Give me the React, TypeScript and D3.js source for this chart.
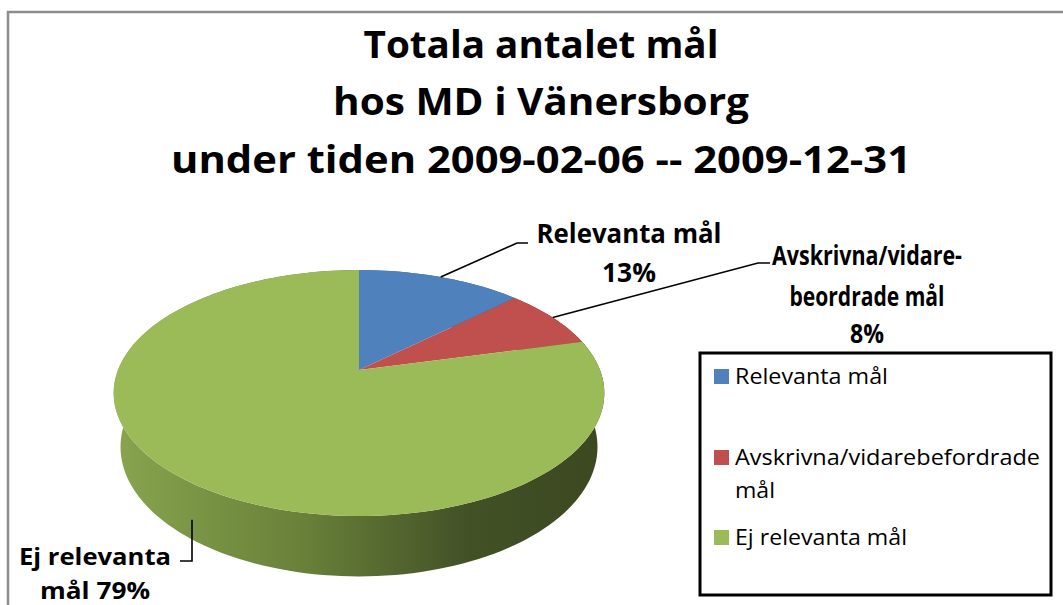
import { useMemo } from 'react';
import * as d3 from 'd3';

// chart data
const categories = ['Relevanta mål', 'Avskrivna/vidarebefordrade mål', 'Ej relevanta mål'];
const values = [13, 8, 79];
const colors = ['#4f81bd', '#c0504d', '#9bbb59'];
const sideColors = ['#3a5f8c', '#8e3b39', '#627a36'];
const titleLines = ['Totala antalet mål', 'hos MD i Vänersborg', 'under tiden 2009-02-06 -- 2009-12-31'];
// data label lines (as drawn by the original, incl. its wrapping)
const dataLabelLines = [
  ['Relevanta mål', '13%'],
  ['Avskrivna/vidare-', 'beordrade mål', '8%'],
  ['Ej relevanta', 'mål 79%'],
];
const legendLines = [['Relevanta mål'], ['Avskrivna/vidarebefordrade', 'mål'], ['Ej relevanta mål']];

const W = 1063;
const H = 605;
const FONT = '"Open Sans", "Noto Sans", sans-serif';

// 3d pie geometry (perspective projection)
const R = 241;
const cx = 359;
const cy = 370;
const depth = 63;
const focal = 1121;
const sinP = 0.4925;
const cosP = Math.sqrt(1 - sinP * sinP);

const proj = (a: number, yH: number): [number, number] => {
  const X = R * Math.sin(a);
  const Z = R * Math.cos(a);
  const u = Z * sinP + yH * cosP;
  const z = Z * cosP - yH * sinP;
  const s = focal / (focal + z);
  return [cx + X * s, cy - u * s];
};

const arcPts = (a0: number, a1: number, yH: number) => {
  const n = Math.max(4, Math.ceil(((a1 - a0) / (2 * Math.PI)) * 200));
  return d3.range(n + 1).map(i => proj(a0 + ((a1 - a0) * i) / n, yH));
};

const line = d3.line<[number, number]>();

export default function App() {
  const slices = useMemo(
    () =>
      d3
        .pie<number>()
        .sort(null)
        .value(d => d)(values),
    []
  );

  const titleWidths = [355, 416, 740];
  const titleBase = [58, 115, 173];

  // label layout
  const labelSpec = [
    { x: 629, y: [243, 282], w: [185, 54], size: 26, leader: [[517, 243], [528, 243]], yH: 0 },
    { x: 867, y: [265, 306, 343], w: [190, 155, 34], size: 26, leader: [[758, 263], [770, 263]], yH: 0 },
    { x: 95, y: [565, 599], w: [152, 110], size: 24, leader: [[192, 561], [180, 561]], yH: -42 },
  ];

  return (
    <svg
      width={W}
      height={H}
      style={{ position: 'absolute', left: 0, top: 0, background: '#fff' }}
    >
      <defs>
        <linearGradient id="sideGrad" gradientUnits="userSpaceOnUse" x1={113} x2={605} y1={0} y2={0}>
          <stop offset="0" stopColor="#89a54f" />
          <stop offset="0.4" stopColor="#677f38" />
          <stop offset="0.72" stopColor="#435127" />
          <stop offset="1" stopColor="#3b4820" />
        </linearGradient>
      </defs>

      {/* chart frame */}
      <path d={`M8,${H} L8,12 L${W},12`} fill="none" stroke="#8c8c8c" strokeWidth={2.5} />

      {/* title */}
      {titleLines.map((t, i) => (
        <text
          key={i}
          x={541}
          y={titleBase[i]}
          textAnchor="middle"
          fontFamily={FONT}
          fontWeight="bold"
          fontSize={37}
          textLength={titleWidths[i]}
          lengthAdjust="spacingAndGlyphs"
        >
          {t}
        </text>
      ))}

      {/* side walls */}
      {slices.map((s, i) => {
        const top = arcPts(s.startAngle, s.endAngle, 0);
        const bot = arcPts(s.startAngle, s.endAngle, -depth).reverse();
        return (
          <path
            key={'side' + i}
            d={line([...top, ...bot]) + 'Z'}
            fill={i === 2 ? 'url(#sideGrad)' : sideColors[i]}
          />
        );
      })}

      {/* top faces */}
      {slices.map((s, i) => {
        const pts: [number, number][] = [[cx, cy], ...arcPts(s.startAngle, s.endAngle, 0)];
        return <path key={'top' + i} d={line(pts) + 'Z'} fill={colors[i]} />;
      })}

      {/* leader lines and data labels */}
      {slices.map((s, i) => {
        const spec = labelSpec[i];
        const mid = (s.startAngle + s.endAngle) / 2;
        const start = proj(mid, spec.yH);
        const pts: [number, number][] = [
          i === 2 ? [spec.leader[0][0], start[1]] : start,
          spec.leader[0] as [number, number],
          spec.leader[1] as [number, number],
        ];
        return (
          <g key={'lbl' + i}>
            <path d={line(pts) ?? ''} fill="none" stroke="#000" strokeWidth={1.6} />
            {dataLabelLines[i].map((t, j) => (
              <text
                key={j}
                x={spec.x}
                y={spec.y[j]}
                textAnchor="middle"
                fontFamily={FONT}
                fontWeight="bold"
                fontSize={spec.size}
                textLength={spec.w[j]}
                lengthAdjust="spacingAndGlyphs"
              >
                {t}
              </text>
            ))}
          </g>
        );
      })}

      {/* legend */}
      <rect x={700} y={353} width={351} height={242} fill="#fff" stroke="#000" strokeWidth={3} />
      {categories.map((c, i) => {
        const baseY = [384, 465, 545][i];
        const widths = i === 0 ? [153] : i === 1 ? [305, 40] : [172];
        return (
          <g key={'leg' + c}>
            <rect x={714} y={baseY - 15} width={15} height={15} fill={colors[i]} />
            {legendLines[i].map((t, j) => (
              <text
                key={j}
                x={735}
                y={baseY + j * 33}
                fontFamily={FONT}
                fontSize={21}
                textLength={widths[j]}
                lengthAdjust="spacingAndGlyphs"
              >
                {t}
              </text>
            ))}
          </g>
        );
      })}
    </svg>
  );
}
